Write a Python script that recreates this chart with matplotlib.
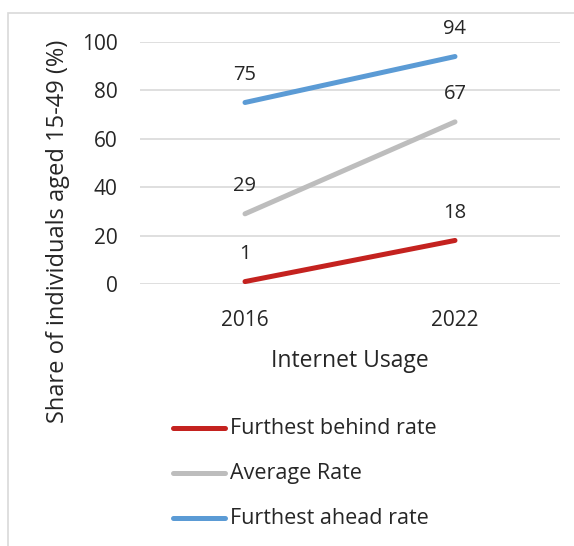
import matplotlib.pyplot as plt
import matplotlib.patches as mpatches
from matplotlib.lines import Line2D

plt.rcParams['font.family'] = ['Open Sans', 'DejaVu Sans']

years = ['2016', '2022']
behind = [1, 18]
average = [29, 67]
ahead = [75, 94]
series_names = ['Furthest behind rate', 'Average Rate', 'Furthest ahead rate']
series_colors = ['#C4221F', '#BDBDBD', '#5B9BD5']
yticks = [0, 20, 40, 60, 80, 100]

W, H = 574, 546
fig = plt.figure(figsize=(W/100, H/100), dpi=100)
ax = fig.add_axes([140/W, 1-284/H, 420/W, 242/H])

txt = '#262626'
x = range(len(years))
for vals, c in zip([behind, average, ahead], series_colors):
    ax.plot(x, vals, color=c, lw=3.6, solid_capstyle='round', zorder=3, clip_on=False)
    for xi, v in zip(x, vals):
        ax.annotate(str(v), (xi, v), xytext=(0, 20), textcoords='offset points',
                    ha='center', va='center', fontsize=14.5, color=txt)

ax.set_xlim(-0.5, 1.5)
ax.set_ylim(0, 100)
ax.set_yticks(yticks)
ax.set_xticks(list(x))
ax.set_xticklabels(years)
ax.tick_params(length=0, labelsize=15, labelcolor=txt)
ax.tick_params(axis='x', pad=19)
ax.tick_params(axis='y', pad=16)
ax.grid(axis='y', color='#D9D9D9', lw=1.2)
ax.set_axisbelow(True)
for s in ax.spines.values():
    s.set_visible(False)

fig.text(350/W, 1-361/H, 'Internet Usage', ha='center', va='center', fontsize=16.5, color=txt)
fig.text(58/W, 1-231/H, 'Share of individuals aged 15-49 (%)', ha='center', va='center',
         rotation=90, fontsize=17, color=txt)

# legend drawn in figure coords
for i, (name, c) in enumerate(zip(series_names, series_colors)):
    yy = 1 - (428 + 45*i)/H
    fig.add_artist(Line2D([173/W, 225/W], [yy, yy], color=c, lw=3.6, solid_capstyle='round'))
    fig.text(230/W, yy, name, ha='left', va='center', fontsize=15.5, color=txt)

# outer frame
fig.add_artist(mpatches.Rectangle((7.5/W, -0.01), 1.2, 1-12.5/H+0.01, fill=False,
                                  edgecolor='#D9D9D9', lw=1.2))

fig.savefig('out.png', dpi=100)
